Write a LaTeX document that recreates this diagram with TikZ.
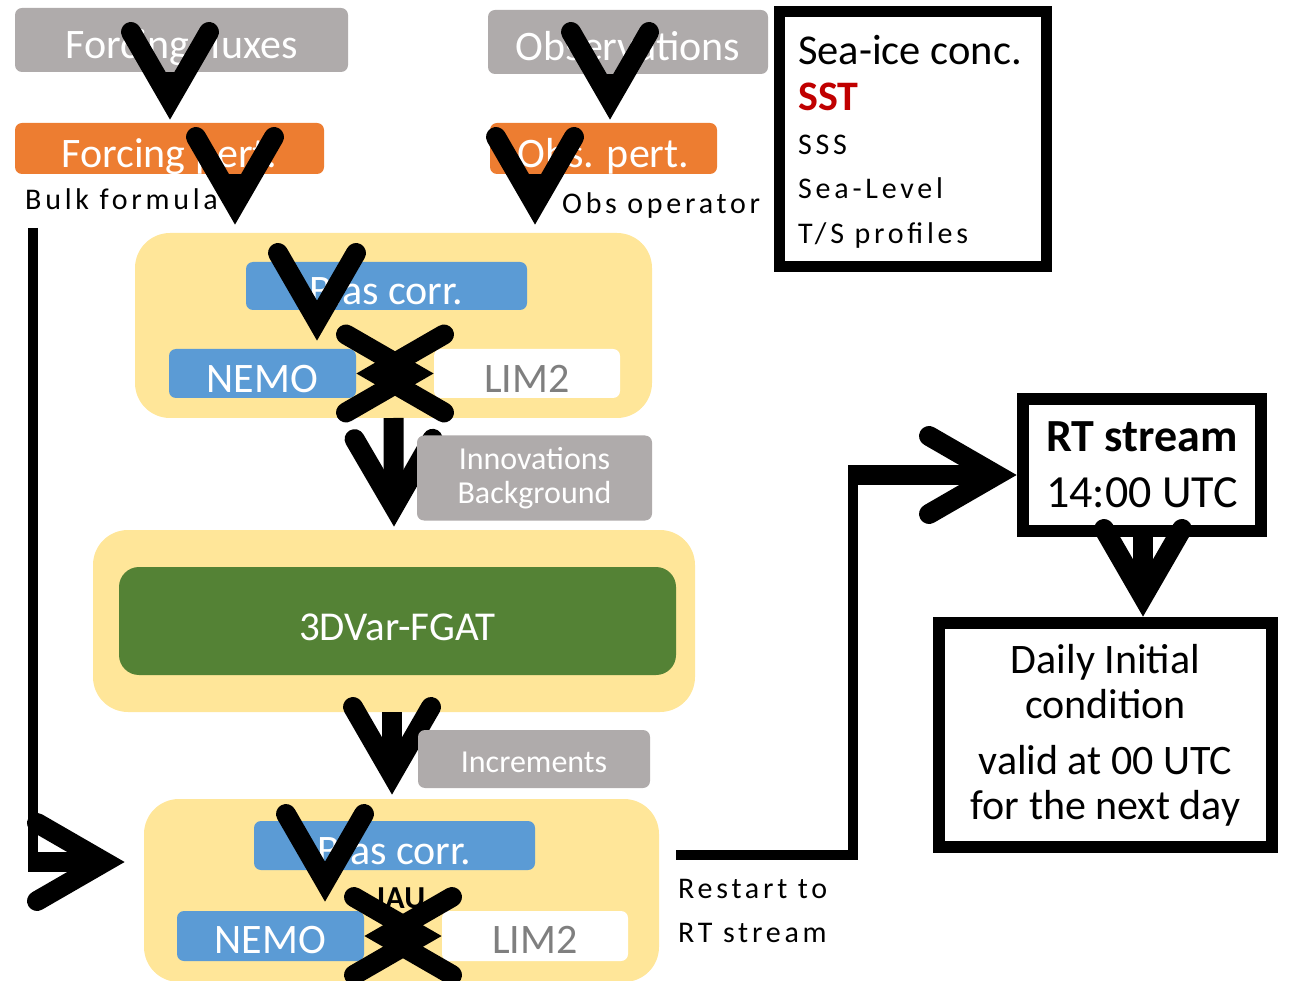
\documentclass[tikz,border=0pt]{standalone}
\usepackage{fontspec}
\setmainfont{Carlito}
\newfontfamily\spacedfont[LetterSpace=12.5]{Carlito}
\usetikzlibrary{decorations.markings,calc}
\definecolor{boxgray}{HTML}{AFABAB}
\definecolor{forange}{HTML}{ED7D31}
\definecolor{pyellow}{HTML}{FFE699}
\definecolor{mblue}{HTML}{5B9BD5}
\definecolor{vgreen}{HTML}{548235}
\definecolor{limgray}{HTML}{7F7F7F}
\definecolor{sstred}{HTML}{C00000}
\tikzset{
  pillbase/.style={rounded corners=7pt, inner sep=0pt, outer sep=0pt, text=white},
  pill/.style={pillbase, font=\fontsize{42}{50}\selectfont, text height=38pt, text depth=0pt},
  graybox/.style={pill, fill=boxgray},
  orangebox/.style={pill, fill=forange},
  bluebox/.style={pill, fill=mblue},
  whitebox/.style={pill, fill=white, text=limgray},
  panel/.style={rounded corners=35pt, fill=pyellow, inner sep=0pt, outer sep=0pt},
  framebox/.style={draw=black, line width=12pt, fill=white, inner sep=0pt, text=black},
  spacedlabel/.style={inner sep=0pt, anchor=base west, font=\spacedfont\fontsize{30}{36}\selectfont},
  plainlabel/.style={inner sep=0pt, anchor=base west, font=\fontsize{42.5}{50}\selectfont},
  headline/.style={line width=20pt, line cap=round, line join=miter, shorten >=0pt, shorten <=0pt},
  bigarrow/.style={line width=20pt, shorten >=20pt,
    postaction={decorate, decoration={markings,
      mark=at position 1 with {\draw[headline] (-88pt,39pt) -- (-20.4pt,0pt) -- (-88pt,-39pt);}}}},
  bigdouble/.style={line width=20pt, shorten >=20pt, shorten <=20pt,
    postaction={decorate, decoration={markings,
      mark=at position 0 with {\draw[headline] (88pt,39pt) -- (20.4pt,0pt) -- (88pt,-39pt);},
      mark=at position 1 with {\draw[headline] (-88pt,39pt) -- (-20.4pt,0pt) -- (-88pt,-39pt);}}}},
  thinline/.style={line width=10pt},
}
\begin{document}
\begin{tikzpicture}[x=1pt,y=-1pt]
\useasboundingbox (0,0) rectangle (1291,981);
% yellow panels
\node[panel, minimum width=517pt, minimum height=185pt] (Y1) at (393.5,325.5) {};
\node[panel, minimum width=602pt, minimum height=182pt] (Y2) at (394,621) {};
\node[panel, minimum width=515pt, minimum height=183pt] (Y3) at (401.5,890.5) {};
% top row
\node[graybox, minimum width=333pt, minimum height=64pt] (ff) at (181.5,40) {Forcing fluxes};
\node[graybox, minimum width=280pt, minimum height=64pt] (obs) at (628,42) {Observations};
\node[orangebox, minimum width=309pt, minimum height=51pt] (fp) at (169.5,148.5) {Forcing pert.};
\node[orangebox, minimum width=227pt, minimum height=51pt] (op) at (603.5,148.5) {Obs. pert.};
\node[spacedlabel] (bulk) at (25,210) {Bulk formula};
\node[spacedlabel] (obsop) at (562,214) {Obs operator};
% observation list
\node[framebox, line width=11pt, minimum width=267pt, minimum height=255pt] (info) at (912.5,139) {};
\node[plainlabel] (l1) at (798,65) {Sea-ice conc.};
\node[plainlabel, font=\fontsize{42}{50}\selectfont\bfseries, text=sstred] (l2) at (798,111) {SST};
\node[spacedlabel] (l3) at (798,155) {SSS};
\node[spacedlabel] (l4) at (798,199) {Sea-Level};
\node[spacedlabel] (l5) at (798,244) {T/S profiles};
% upper model panel
\node[bluebox, minimum width=281pt, minimum height=48pt] (bias1) at (386.5,286) {Bias corr.};
\node[bluebox, minimum width=187pt, minimum height=49pt] (nemo1) at (262.5,373.5) {NEMO};
\node[whitebox, minimum width=186pt, minimum height=49pt] (lim1) at (527,373.5) {LIM2};
% 3DVar
\node[pill, fill=vgreen, rounded corners=20pt, font=\fontsize{41}{50}\selectfont, minimum width=557pt, minimum height=108pt] (var) at (397.5,621) {3DVar-FGAT};
% lower model panel
\node[bluebox, minimum width=281pt, minimum height=49pt] (bias2) at (394.5,845.5) {Bias corr.};
\node[inner sep=0pt, font=\fontsize{32}{38}\selectfont\bfseries] (iau) at (401,898) {IAU};
\node[bluebox, text height=35pt, minimum width=187pt, minimum height=50pt] (nemo2) at (270.5,936) {NEMO};
\node[whitebox, text height=35pt, minimum width=186pt, minimum height=50pt] (lim2) at (535,936) {LIM2};
\node[spacedlabel] (rs1) at (678,898) {Restart to};
\node[spacedlabel] (rs2) at (678,942) {RT stream};
% right side
\node[framebox, minimum width=238pt, minimum height=132pt, align=center, font=\fontsize{46}{56}\selectfont] (RT) at (1142,465) {\textbf{RT stream}\\14:00 UTC};
\node[framebox, minimum width=333pt, minimum height=224pt, align=center, font=\fontsize{42}{45}\selectfont] (daily) at (1105.5,735) {Daily Initial\\condition\\[11pt]valid at 00 UTC\\for the next day};
% arrows
\draw[bigarrow] ([xshift=-11.5pt]ff.south) -- ([xshift=0.5pt,yshift=3pt]fp.north);
\draw[bigarrow] ([xshift=-18pt]obs.south) -- ([xshift=6.5pt,yshift=3pt]op.north);
\draw[bigarrow] ([xshift=65.5pt]fp.south) -- ([xshift=-158.5pt,yshift=8pt]Y1.north);
\draw[bigarrow] ([xshift=-68.5pt]op.south) -- ([xshift=141.5pt,yshift=8pt]Y1.north);
\draw[bigarrow] ([xshift=-69.5pt]bias1.south) -- ([xshift=54.5pt,yshift=8pt]nemo1.north);
\draw[bigdouble] (nemo1.east) -- (lim1.west);
\draw[bigarrow] (Y1.south) -- ([yshift=3pt]Y2.north);
\draw[bigarrow] ([xshift=-2pt]Y2.south) -- ([xshift=-9.5pt,yshift=4pt]Y3.north);
\draw[bigarrow] ([xshift=-69.5pt]bias2.south) -- ([xshift=54.5pt,yshift=9pt]nemo2.north);
\draw[bigdouble] (nemo2.east) -- (lim2.west);
\draw[bigarrow] ([xshift=1pt]RT.south) -- ([xshift=37.5pt]daily.north);
\coordinate (L0) at (33,228);
\coordinate (L1) at (33,862);
\draw[thinline] (L0) -- ([yshift=-5pt]L1);
\draw[bigarrow] ([xshift=-5pt]L1) -- ($(Y3.west |- L1)+(-19,0)$);
\coordinate (R0) at (676,855);
\coordinate (R1) at (853,475);
\draw[thinline] (R0) -| (R1);
\draw[bigarrow] ([xshift=-5pt]R1) -- ($(RT.west)+(0,10)$);
% labels on top of arrows
\node[pillbase, fill=boxgray, font=\fontsize{32}{34}\selectfont, align=center, minimum width=235pt, minimum height=85pt] (innov) at (534.5,478) {Innovations\\Background};
\node[pill, fill=boxgray, font=\fontsize{32}{38}\selectfont, text height=27pt, minimum width=232pt, minimum height=58pt] (incr) at (534,759) {Increments};
\end{tikzpicture}
\end{document}
